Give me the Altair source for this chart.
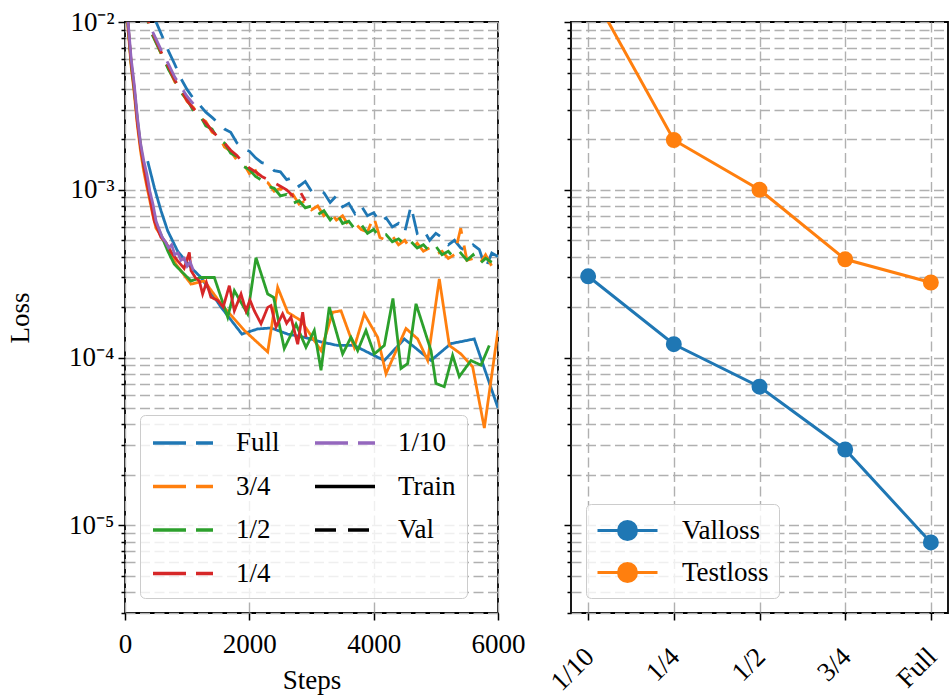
import altair as alt
import pandas as pd

# ---------------- data ----------------
VAL_STEPS = [300, 400, 500, 600, 700, 800, 900, 1000, 1100, 1200, 1300, 1400, 1500, 1600,
             1700, 1800, 1900, 2000, 2100, 2200, 2300, 2400, 2500, 2600, 2700, 2800, 2900,
             3000, 3100, 3200, 3300, 3400, 3500, 3600, 3700, 3800, 3900, 4000, 4100, 4200,
             4300, 4400, 4500, 4600, 4700, 4800, 4900, 5000, 5100, 5200, 5300, 5400, 5500,
             5600, 5700, 5800, 5900, 6000]

FULL_VAL = [1.6e-2, 1.25e-2, 1.0e-2, 8.2e-3, 6.7e-3, 5.6e-3, 4.6e-3, 3.95e-3, 3.5e-3, 3.2e-3,
            2.9e-3, 2.7e-3, 2.5e-3, 2.3e-3, 2.2e-3, 1.9e-3, 1.75e-3, 1.7e-3, 1.55e-3, 1.45e-3,
            1.42e-3, 1.3e-3, 1.28e-3, 1.15e-3, 1.18e-3, 1.05e-3, 1.12e-3, 9.8e-4, 1.0e-3, 9.6e-4,
            8.4e-4, 9.2e-4, 7.9e-4, 8.3e-4, 7.2e-4, 8.0e-4, 7.0e-4, 7.3e-4, 6.4e-4, 6.8e-4,
            6.0e-4, 6.3e-4, 5.6e-4, 8.0e-4, 5.5e-4, 5.8e-4, 5.0e-4, 5.5e-4, 5.2e-4, 4.7e-4,
            5.0e-4, 4.5e-4, 4.3e-4, 4.7e-4, 4.4e-4, 3.4e-4, 4.2e-4, 4.0e-4]
Q3_VAL = [1.3e-2, 9.2e-3, 7.6e-3, 6.2e-3, 5.3e-3, 4.4e-3, 3.9e-3, 3.35e-3, 3.1e-3, 2.7e-3,
          2.55e-3, 2.2e-3, 2.1e-3, 1.8e-3, 1.7e-3, 1.5e-3, 1.45e-3, 1.25e-3, 1.3e-3, 1.12e-3,
          1.1e-3, 9.8e-4, 1.02e-3, 9.0e-4, 9.4e-4, 8.2e-4, 8.6e-4, 7.6e-4, 8.0e-4, 7.0e-4,
          7.4e-4, 6.6e-4, 7.0e-4, 6.1e-4, 6.3e-4, 5.8e-4, 5.6e-4, 6.9e-4, 5.2e-4, 5.0e-4,
          5.3e-4, 4.7e-4, 5.0e-4, 4.4e-4, 4.8e-4, 4.3e-4, 4.5e-4, 4.1e-4, 4.3e-4, 3.9e-4,
          4.1e-4, 5.9e-4, 3.8e-4, 3.9e-4, 3.6e-4, 4.1e-4, 3.5e-4, 3.8e-4]
HALF_VAL = [1.3e-2, 9.0e-3, 7.5e-3, 6.3e-3, 5.2e-3, 4.5e-3, 3.8e-3, 3.45e-3, 2.95e-3, 2.8e-3,
            2.4e-3, 2.3e-3, 2.0e-3, 1.9e-3, 1.65e-3, 1.58e-3, 1.38e-3, 1.32e-3, 1.2e-3, 1.14e-3,
            1.05e-3, 1.02e-3, 9.2e-4, 9.4e-4, 8.3e-4, 8.6e-4, 7.8e-4, 8.0e-4, 7.1e-4, 7.5e-4,
            6.6e-4, 7.3e-4, 6.3e-4, 6.5e-4, 5.8e-4, 6.2e-4, 5.5e-4, 5.8e-4, 5.2e-4, 5.4e-4,
            4.9e-4, 5.1e-4, 4.7e-4, 4.9e-4, 4.5e-4, 4.7e-4, 4.3e-4, 4.6e-4, 4.1e-4, 4.3e-4,
            3.9e-4, 4.2e-4, 3.8e-4, 4.1e-4, 3.6e-4, 3.9e-4, 3.7e-4]
QUARTER_VAL = [1.3e-2, 9.3e-3, 7.7e-3, 6.4e-3, 5.4e-3, 4.5e-3, 3.95e-3, 3.4e-3, 3.05e-3, 2.75e-3,
               2.5e-3, 2.25e-3, 2.05e-3, 1.9e-3, 1.72e-3, 1.6e-3, 1.45e-3, 1.35e-3, 1.28e-3, 1.2e-3,
               1.15e-3, 1.1e-3, 1.05e-3, 1.0e-3, 9.2e-4, 1.0e-3, 8.6e-4]
TENTH_VAL = [1.35e-2, 9.5e-3, 7.9e-3, 6.6e-3, 5.6e-3, 4.7e-3, 4.1e-3, 3.6e-3, 3.25e-3]

FULL_TRAIN_STEPS = [365, 472, 579, 686, 847, 1062, 1222, 1544, 1880, 2134, 2348, 2617, 2884,
                    3153, 3421, 3688, 3957, 4171, 4493, 4922, 5243, 5618, 6000]
FULL_TRAIN = [1.48e-3, 1.03e-3, 7.5e-4, 5.7e-4, 4.3e-4, 3.44e-4, 3.0e-4, 2.0e-4, 1.38e-4, 1.48e-4,
              1.5e-4, 1.38e-4, 1.32e-4, 1.24e-4, 1.18e-4, 1.18e-4, 1.05e-4, 9.6e-5, 1.29e-4, 9.6e-5,
              1.21e-4, 1.29e-4, 5.0e-5]
Q3_TRAIN_STEPS = [0, 50, 100, 150, 200, 250, 300, 350, 400, 450, 500, 633, 820, 1062, 1276, 1544,
                  1920, 2295, 2456, 2617, 2831, 3153, 3340, 3474, 3688, 3849, 4064, 4198, 4520,
                  4708, 4869, 5056, 5217, 5404, 5592, 5780, 6000]
Q3_TRAIN = [2.8e-2, 9.0e-3, 5.4e-3, 3.7e-3, 2.4e-3, 1.7e-3, 1.3e-3, 1.05e-3, 8.6e-4, 7.0e-4,
            5.9e-4, 4.96e-4, 3.6e-4, 2.74e-4, 2.86e-4, 2.09e-4, 1.45e-4, 1.08e-4, 2.62e-4, 1.86e-4,
            1.66e-4, 1.1e-4, 1.86e-4, 1.9e-4, 1.15e-4, 1.82e-4, 1.32e-4, 8.0e-5, 1.49e-4, 1.29e-4,
            9.6e-5, 2.94e-4, 1.18e-4, 1.05e-4, 8.8e-5, 3.8e-5, 1.45e-4]
HALF_TRAIN_STEPS = [0, 50, 100, 150, 200, 250, 300, 350, 400, 450, 500, 579, 690, 793, 930, 1062,
                    1222, 1437, 1652, 1759, 1973, 2107, 2295, 2391, 2562, 2751, 2911, 3045, 3153,
                    3286, 3501, 3635, 3743, 3876, 4010, 4171, 4310, 4439, 4547, 4681, 4922, 5002,
                    5136, 5270, 5377, 5565, 5726, 5860]
HALF_TRAIN = [3.0e-2, 9.5e-3, 5.6e-3, 3.9e-3, 2.6e-3, 1.85e-3, 1.4e-3, 1.15e-3, 9.3e-4, 7.6e-4,
              6.3e-4, 5.4e-4, 4.3e-4, 3.6e-4, 3.2e-4, 2.86e-4, 3.0e-4, 3.0e-4, 1.74e-4, 2.5e-4,
              1.82e-4, 3.94e-4, 2.39e-4, 2.28e-4, 1.13e-4, 1.58e-4, 1.15e-4, 1.45e-4, 8.4e-5, 2.0e-4,
              1.05e-4, 1.32e-4, 1.1e-4, 1.45e-4, 1.05e-4, 1.18e-4, 2.25e-4, 8.6e-5, 9.2e-5, 2.09e-4,
              1.1e-4, 7.0e-5, 6.7e-5, 1.03e-4, 7.7e-5, 9.6e-5, 9.0e-5, 1.18e-4]
QUARTER_TRAIN_STEPS = [0, 50, 100, 150, 200, 250, 300, 350, 400, 472, 579, 650, 750, 847, 950,
                       1035, 1062, 1130, 1196, 1249, 1310, 1383, 1491, 1580, 1678, 1759, 1866,
                       1946, 2010, 2080, 2188, 2295, 2348, 2429, 2536, 2600, 2670, 2778, 2858, 2911]
QUARTER_TRAIN = [3.0e-2, 9.5e-3, 5.7e-3, 4.0e-3, 2.5e-3, 1.8e-3, 1.4e-3, 1.1e-3, 9.0e-4,
                 6.5e-4, 5.2e-4, 4.9e-4, 4.2e-4, 3.77e-4, 3.4e-4, 4.23e-4, 3.3e-4, 3.0e-4, 2.86e-4,
                 2.39e-4, 2.8e-4, 2.29e-4, 2.19e-4, 2.0e-4, 2.68e-4, 1.9e-4, 2.39e-4, 1.9e-4, 2.2e-4,
                 1.9e-4, 1.59e-4, 1.99e-4, 2.04e-4, 1.52e-4, 1.82e-4, 1.6e-4, 1.74e-4, 1.2e-4, 1.86e-4,
                 1.32e-4]
TENTH_TRAIN_STEPS = [0, 50, 100, 150, 200, 250, 300, 350, 400, 450, 500, 550, 600, 650, 700,
                     750, 800, 850, 900, 950, 1000, 1050, 1100]
TENTH_TRAIN = [3.2e-2, 1.0e-2, 6.0e-3, 4.2e-3, 2.7e-3, 1.9e-3, 1.5e-3, 1.25e-3, 9.8e-4, 8.2e-4,
               6.5e-4, 5.8e-4, 5.2e-4, 4.9e-4, 4.5e-4, 4.7e-4, 4.1e-4, 4.2e-4, 3.8e-4, 3.9e-4,
               3.5e-4, 3.7e-4, 3.3e-4]

FRACTIONS = ["1/10", "1/4", "1/2", "3/4", "Full"]
VALLOSS = [3.05e-4, 1.2e-4, 6.7e-5, 2.83e-5, 7.9e-6]
TESTLOSS = [1.65e-2, 1.98e-3, 1.0e-3, 3.85e-4, 2.8e-4]

# ---------------- build tables ----------------
rows = []
def add(series, split, steps, losses):
    for s, l in zip(steps, losses):
        rows.append({"series": series, "split": split, "step": s, "loss": l})

add("Full", "Train", FULL_TRAIN_STEPS, FULL_TRAIN)
add("Full", "Val", VAL_STEPS[:len(FULL_VAL)], FULL_VAL)
add("3/4", "Train", Q3_TRAIN_STEPS, Q3_TRAIN)
add("3/4", "Val", VAL_STEPS[:len(Q3_VAL)], Q3_VAL)
add("1/2", "Train", HALF_TRAIN_STEPS, HALF_TRAIN)
add("1/2", "Val", VAL_STEPS[:len(HALF_VAL)], HALF_VAL)
add("1/4", "Train", QUARTER_TRAIN_STEPS, QUARTER_TRAIN)
add("1/4", "Val", VAL_STEPS[:len(QUARTER_VAL)], QUARTER_VAL)
add("1/10", "Train", TENTH_TRAIN_STEPS, TENTH_TRAIN)
add("1/10", "Val", VAL_STEPS[:len(TENTH_VAL)], TENTH_VAL)
curves = pd.DataFrame(rows)
curves["order"] = range(len(curves))

summary = pd.DataFrame(
    [{"frac": f, "series": "Valloss", "loss": v} for f, v in zip(FRACTIONS, VALLOSS)]
    + [{"frac": f, "series": "Testloss", "loss": v} for f, v in zip(FRACTIONS, TESTLOSS)]
)

# ---------------- styling ----------------
FONT = "Liberation Serif"
FS = 27
GRID = "#b0b0b0"
GRID_DASH = [10, 4.5]

Y_TICKS = []
for e in range(-6, -1):
    for k in range(1, 10):
        v = round(k * 10 ** e, 12)
        if 3e-6 - 1e-12 <= v <= 1e-2 + 1e-12:
            Y_TICKS.append(v)

LG = "log(datum.value)/LN10"
MAJOR = f"abs({LG} - round({LG})) < 0.001"
SUP = {-2: "⁻²", -3: "⁻³", -4: "⁻⁴", -5: "⁻⁵", -6: "⁻⁶"}
sup_expr = "''"
for e, s in SUP.items():
    sup_expr = f"(round({LG}) == {e} ? '{s}' : {sup_expr})"
Y_LABEL_EXPR = f"{MAJOR} ? '10' + {sup_expr} : ''"
TICK_SIZE = {"condition": {"test": MAJOR, "value": 7}, "value": 4}

yscale = alt.Scale(type="log", domain=[3e-6, 1e-2], nice=False)

LEGEND_KEYS = ["Full", "3/4", "1/2", "1/4", "1/10", "Train", "Val"]
KEY_COLORS = ["#1f77b4", "#ff7f0e", "#2ca02c", "#d62728", "#9467bd", "#000000", "#000000"]
KEY_DASHES = [[33, 10], [33, 10], [33, 10], [33, 10], [33, 10], [1, 0], [21, 12]]

LINE_SYMBOL = "M-2,0H2"
left_legend = alt.Legend(
    title=None, orient="bottom-left", offset=15, columns=2, symbolType=LINE_SYMBOL,
    symbolSize=900, symbolOffset=15, symbolStrokeWidth=3.5, labelFont=FONT, labelFontSize=FS,
    labelOffset=36, columnPadding=28, rowPadding=13.5, padding=11,
    strokeColor="#cccccc", cornerRadius=5, fillColor="rgba(255,255,255,0.8)",
)

left = alt.Chart(curves).mark_line(clip=True, strokeWidth=2.8).encode(
    x=alt.X("step:Q", scale=alt.Scale(domain=[0, 6000], nice=False, zero=False),
            axis=alt.Axis(values=[0, 2000, 4000, 6000], title="Steps", labelFlush=False,
                          tickSize=7, format="d", labelPadding=11, titlePadding=10)),
    y=alt.Y("loss:Q", scale=yscale,
            axis=alt.Axis(values=Y_TICKS, title="Loss", labelExpr=Y_LABEL_EXPR,
                          labelOverlap=False, tickSize=TICK_SIZE, labelPadding=4,
                          titlePadding=34)),
    color=alt.Color("series:N", scale=alt.Scale(domain=LEGEND_KEYS, range=KEY_COLORS),
                    legend=left_legend),
    strokeDash=alt.StrokeDash("split:N", scale=alt.Scale(domain=LEGEND_KEYS, range=KEY_DASHES),
                              legend=left_legend),
    detail="series:N",
    order="order:Q",
).properties(width=373, height=591)

RING = ("M-2,0H2 "
        "M0.6,0A0.6,0.6,0,1,1,-0.6,0A0.6,0.6,0,1,1,0.6,0 "
        "M0.44,0A0.44,0.44,0,1,1,-0.44,0A0.44,0.44,0,1,1,0.44,0 "
        "M0.28,0A0.28,0.28,0,1,1,-0.28,0A0.28,0.28,0,1,1,0.28,0 "
        "M0.12,0A0.12,0.12,0,1,1,-0.12,0A0.12,0.12,0,1,1,0.12,0")

right = alt.Chart(summary).mark_line(
    clip=True, strokeWidth=3,
    point=alt.OverlayMarkDef(filled=True, size=254, opacity=1, clip=True),
).encode(
    x=alt.X("frac:N", sort=FRACTIONS, scale=alt.Scale(type="point", padding=0.2),
            axis=alt.Axis(title=None, labelAngle=315, labelAlign="right",
                          labelBaseline="top", labelOffset=-8, labelPadding=23,
                          tickSize=7)),
    y=alt.Y("loss:Q", scale=yscale,
            axis=alt.Axis(values=Y_TICKS, title=None, labels=False, tickSize=TICK_SIZE,
                          minExtent=0)),
    color=alt.Color("series:N", sort=["Valloss", "Testloss"],
                    scale=alt.Scale(domain=["Valloss", "Testloss"], range=["#1f77b4", "#ff7f0e"]),
                    legend=alt.Legend(title=None, orient="bottom-left", offset=15,
                                      symbolType=RING, symbolSize=900, symbolOffset=15,
                                      symbolStrokeWidth=3,
                                      labelFont=FONT, labelFontSize=FS, labelOffset=38,
                                      rowPadding=10, padding=10, strokeColor="#cccccc",
                                      cornerRadius=5, fillColor="rgba(255,255,255,0.8)")),
).properties(width=377, height=591)

chart = alt.hconcat(left, right, spacing=18).resolve_scale(
    color="independent", strokeDash="independent"
).properties(
    padding={"left": 5, "top": 7, "right": 0, "bottom": 0}
).configure_view(
    stroke="black", strokeWidth=1.8
).configure_axis(
    labelFont=FONT, titleFont=FONT, labelFontSize=FS, titleFontSize=FS,
    titleFontWeight="normal", labelColor="black", titleColor="black",
    tickColor="black", tickWidth=1.5, domain=False, grid=True,
    gridColor=GRID, gridDash=GRID_DASH, gridWidth=1.4, gridOpacity=1,
).configure_legend(
    labelColor="black"
)

chart.save("out.html", embed_options={"renderer": "svg", "actions": False})
